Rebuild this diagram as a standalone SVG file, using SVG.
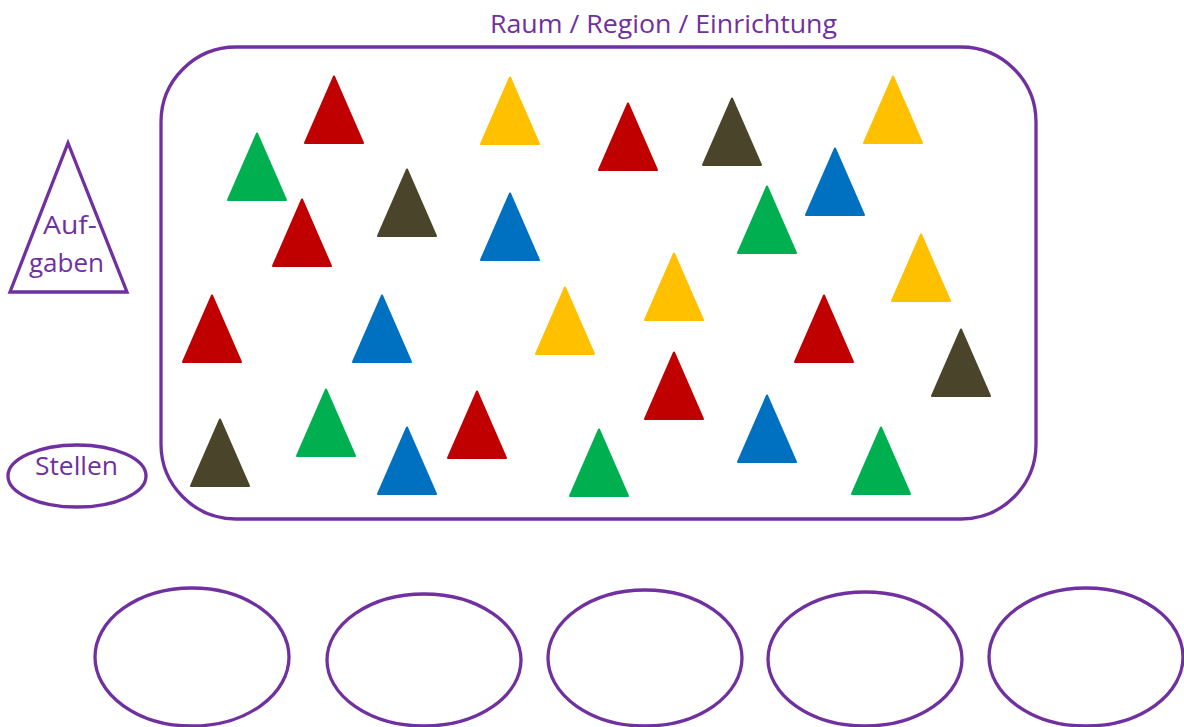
<svg xmlns="http://www.w3.org/2000/svg" xmlns:xlink="http://www.w3.org/1999/xlink" width="1184" height="727" viewBox="0 0 1184 727">
<style>
  .outline { fill: none; stroke: #7030A0; stroke-width: 3.3; }
  .lbl { font-family: "Open Sans", "Liberation Sans", sans-serif; fill: #7030A0; font-size: 25px; }
  .t { stroke-width: 2; stroke-linejoin: round; }
  .red { fill: #C00000; stroke: #C00000; }
  .yel { fill: #FFC000; stroke: #FFC000; }
  .grn { fill: #00B050; stroke: #00B050; }
  .blu { fill: #0070C0; stroke: #0070C0; }
  .drk { fill: #4A452A; stroke: #4A452A; }
</style>
<defs>
  <path id="tri" d="M0,1.5 L29,68 L-29,68 Z"/>
</defs>
<rect width="1184" height="727" fill="#FFFFFF"/>

<g id="title">
  <text class="lbl" x="490" y="33" textLength="347" lengthAdjust="spacingAndGlyphs">Raum / Region / Einrichtung</text>
</g>

<g id="region">
  <rect class="outline" x="161" y="47" width="875" height="472" rx="75" ry="75"/>
</g>

<g id="aufgaben">
  <polygon class="outline" points="68,143 127,292 10,292"/>
  <text class="lbl" x="43" y="234" textLength="54" lengthAdjust="spacingAndGlyphs">Auf-</text>
  <text class="lbl" x="29" y="272" textLength="75" lengthAdjust="spacingAndGlyphs">gaben</text>
</g>

<g id="stellen">
  <ellipse class="outline" cx="77" cy="476" rx="69" ry="31"/>
  <text class="lbl" x="35" y="475" textLength="83" lengthAdjust="spacingAndGlyphs">Stellen</text>
</g>

<g id="triangles">
  <use href="#tri" x="334" y="75" class="t red"/>
  <use href="#tri" x="510" y="76" class="t yel"/>
  <use href="#tri" x="628" y="102" class="t red"/>
  <use href="#tri" x="732" y="97" class="t drk"/>
  <use href="#tri" x="893" y="75" class="t yel"/>
  <use href="#tri" x="257" y="132" class="t grn"/>
  <use href="#tri" x="407" y="168" class="t drk"/>
  <use href="#tri" x="302" y="198" class="t red"/>
  <use href="#tri" x="510" y="192" class="t blu"/>
  <use href="#tri" x="767" y="185" class="t grn"/>
  <use href="#tri" x="835" y="147" class="t blu"/>
  <use href="#tri" x="921" y="233" class="t yel"/>
  <use href="#tri" x="212" y="294" class="t red"/>
  <use href="#tri" x="382" y="294" class="t blu"/>
  <use href="#tri" x="565" y="286" class="t yel"/>
  <use href="#tri" x="674" y="252" class="t yel"/>
  <use href="#tri" x="824" y="294" class="t red"/>
  <use href="#tri" x="961" y="328" class="t drk"/>
  <use href="#tri" x="674" y="351" class="t red"/>
  <use href="#tri" x="477" y="390" class="t red"/>
  <use href="#tri" x="326" y="388" class="t grn"/>
  <use href="#tri" x="220" y="418" class="t drk"/>
  <use href="#tri" x="407" y="426" class="t blu"/>
  <use href="#tri" x="599" y="428" class="t grn"/>
  <use href="#tri" x="767" y="394" class="t blu"/>
  <use href="#tri" x="881" y="426" class="t grn"/>
</g>

<g id="slot1"><ellipse class="outline" cx="192" cy="657" rx="97" ry="69"/></g>
<g id="slot2"><ellipse class="outline" cx="424" cy="660" rx="97" ry="66"/></g>
<g id="slot3"><ellipse class="outline" cx="645" cy="658" rx="97" ry="68"/></g>
<g id="slot4"><ellipse class="outline" cx="865" cy="659" rx="97" ry="67"/></g>
<g id="slot5"><ellipse class="outline" cx="1086" cy="657" rx="97" ry="69"/></g>

<g id="connectors"></g>
</svg>
